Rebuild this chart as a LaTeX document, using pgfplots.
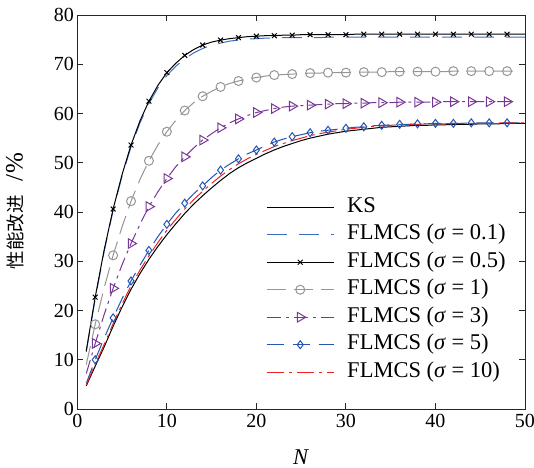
\documentclass[border=0pt]{standalone}
\usepackage{fontspec}
\setmainfont{Liberation Serif}
\newfontfamily\cjk{Noto Sans CJK SC}
\usepackage{pgfplots}
\usepackage{pgfplotstable}
\pgfplotsset{compat=1.18}

\definecolor{lblue}{RGB}{60,110,195}
\definecolor{dblue}{RGB}{35,85,180}
\definecolor{mgray}{RGB}{150,150,150}
\definecolor{purp}{RGB}{120,55,150}
\definecolor{lred}{RGB}{235,35,35}

% N, KS and FLMCS for sigma = 0.1, 0.5, 1, 3, 5, 10
\pgfplotstableread{
N ks s01 s05 s1 s3 s5 s10
1 4.7 11.6 11.8 9.0 7.2 5.2 4.9
2 8.7 22.4 22.7 17.2 13.3 10.0 9.1
3 12.6 32.0 32.3 24.6 19.2 14.4 13.1
4 16.8 40.3 40.6 31.2 24.5 18.5 17.3
5 20.7 47.3 47.6 37.0 29.3 22.4 21.3
6 24.3 53.2 53.6 42.2 33.6 26.0 25.0
7 27.5 58.1 58.5 46.6 37.5 29.2 28.2
8 30.4 62.0 62.5 50.4 41.1 32.2 31.1
9 33.0 65.2 65.7 53.6 44.1 35.0 33.8
10 35.4 67.7 68.3 56.3 46.8 37.5 36.3
11 37.6 69.6 70.2 58.6 49.2 39.8 38.5
12 39.7 71.1 71.8 60.6 51.2 41.8 40.6
13 41.6 72.3 73.0 62.2 53.0 43.7 42.5
14 43.3 73.2 73.9 63.5 54.6 45.3 44.2
15 44.9 73.9 74.5 64.5 55.9 47.0 45.8
16 46.4 74.3 74.9 65.4 57.1 48.5 47.3
17 47.8 74.7 75.2 66.1 58.1 49.7 48.6
18 49.0 74.9 75.4 66.6 58.9 50.8 49.8
19 50.0 75.1 75.6 67.0 59.6 51.8 50.8
20 50.9 75.2 75.7 67.3 60.2 52.6 51.7
21 51.8 75.3 75.8 67.6 60.6 53.4 52.5
22 52.6 75.3 75.8 67.8 61.0 54.2 53.3
23 53.3 75.4 75.9 67.9 61.3 54.8 53.9
24 53.9 75.4 75.9 68.0 61.5 55.3 54.5
25 54.5 75.4 76.0 68.1 61.6 55.7 55.0
26 55.0 75.4 76.0 68.2 61.7 56.1 55.5
27 55.4 75.4 76.0 68.2 61.8 56.4 55.9
28 55.8 75.5 76.0 68.3 61.9 56.6 56.2
29 56.1 75.5 76.0 68.3 62.0 56.8 56.5
30 56.4 75.5 76.0 68.3 62.0 57.0 56.8
31 56.6 75.5 76.1 68.4 62.1 57.2 57.0
32 56.8 75.5 76.1 68.4 62.1 57.3 57.2
33 57.0 75.5 76.1 68.4 62.2 57.5 57.4
34 57.2 75.5 76.1 68.4 62.2 57.6 57.5
35 57.3 75.5 76.1 68.5 62.2 57.7 57.6
36 57.4 75.5 76.1 68.5 62.3 57.8 57.7
37 57.5 75.5 76.1 68.5 62.3 57.8 57.8
38 57.6 75.5 76.1 68.5 62.3 57.9 57.8
39 57.6 75.5 76.1 68.5 62.3 57.9 57.9
40 57.7 75.5 76.1 68.5 62.3 58.0 57.9
41 57.7 75.5 76.1 68.5 62.4 58.0 57.9
42 57.8 75.5 76.1 68.6 62.4 58.0 58.0
43 57.8 75.5 76.1 68.6 62.4 58.0 58.0
44 57.8 75.5 76.1 68.6 62.4 58.1 58.0
45 57.9 75.5 76.1 68.6 62.4 58.1 58.0
46 57.9 75.5 76.1 68.6 62.4 58.1 58.0
47 57.9 75.5 76.1 68.6 62.4 58.1 58.1
48 58.0 75.5 76.1 68.6 62.4 58.1 58.1
49 58.0 75.5 76.1 68.6 62.4 58.1 58.1
50 58.0 75.5 76.1 68.6 62.4 58.1 58.1
}\perf

\pgfplotsset{
  evenmarks/.style={mark indices={2,4,6,8,10,12,14,16,18,20,22,24,26,28,30,32,34,36,38,40,42,44,46,48}},
}

\begin{document}
\begin{tikzpicture}
\path[use as bounding box] (-77.3bp,-59bp) rectangle (456.7bp,409bp);
\begin{axis}[
  scale only axis, width=447.7bp, height=394bp,
  xmin=0, xmax=50, ymin=0, ymax=80,
  xtick={0,10,...,50}, ytick={0,10,...,80},
  axis line style={line width=0.9bp, black!85},
  major tick style={line width=0.9bp, black!85},
  major tick length=6bp,
  xticklabel={\pgfmathprintnumber[assume math mode=true]{\tick}},
  yticklabel={\pgfmathprintnumber[assume math mode=true]{\tick}},
  tick label style={font=\fontsize{20bp}{22bp}\selectfont},
  xticklabel style={yshift=-2bp},
  xlabel={\textit{N}},
  xlabel style={at={(axis description cs:0.5,-0.122)}, anchor=center, font=\fontsize{22.5bp}{26bp}\selectfont},
  ylabel={{\cjk\fontsize{18.5bp}{22bp}\selectfont 性能改进}\hspace{14bp}{\fontsize{25bp}{28bp}\selectfont /\hspace{1bp}\%}},
  ylabel style={at={(axis description cs:-0.139,0.503)}, anchor=center},
  every axis plot/.append style={line width=1bp},
  legend image code/.code={\draw[#1] plot coordinates {(0bp,0bp) (33.5bp,0bp) (67bp,0bp)};},
  legend cell align=left,
  legend style={at={(axis cs:21.08,43.8)}, anchor=north west, draw=none, fill=none,
    inner sep=0pt, font=\fontsize{22.5bp}{26bp}\selectfont,
    nodes={text height=15.5bp, text depth=5bp, inner ysep=3.5bp, inner xsep=6bp},
    /tikz/every odd column/.append style={column sep=7bp}},
]
\addplot[black, mark=none] table[x=N, y=ks] {\perf};
\addlegendentry{KS}
\addplot[lblue, mark=none, dash pattern=on 20bp off 12bp] table[x=N, y=s01] {\perf};
\addlegendentry{FLMCS (\textit{σ} = 0.1)}
\addplot[black, mark=x, mark size=3.4bp, evenmarks] table[x=N, y=s05] {\perf};
\addlegendentry{FLMCS (\textit{σ} = 0.5)}
\addplot[mgray, dash pattern=on 19bp off 8bp, mark=o, mark size=4.5bp, mark options={solid}, evenmarks, restrict x to domain=1:49] table[x=N, y=s1] {\perf};
\addlegendentry{FLMCS (\textit{σ} = 1)}
\addplot[purp, dash pattern=on 14bp off 5bp on 3bp off 5bp, mark=triangle, mark size=5.5bp, mark options={solid, rotate=-90}, evenmarks, restrict x to domain=1:49.5] table[x=N, y=s3] {\perf};
\addlegendentry{FLMCS (\textit{σ} = 3)}
\addplot[dblue, dash pattern=on 17bp off 9bp, mark=diamond, mark size=4bp, mark options={solid}, evenmarks] table[x=N, y=s5] {\perf};
\addlegendentry{FLMCS (\textit{σ} = 5)}
\addplot[lred, dash pattern=on 17bp off 5bp on 3bp off 5bp, mark=none] table[x=N, y=s10] {\perf};
\addlegendentry{FLMCS (\textit{σ} = 10)}
\end{axis}
\end{tikzpicture}
\end{document}
